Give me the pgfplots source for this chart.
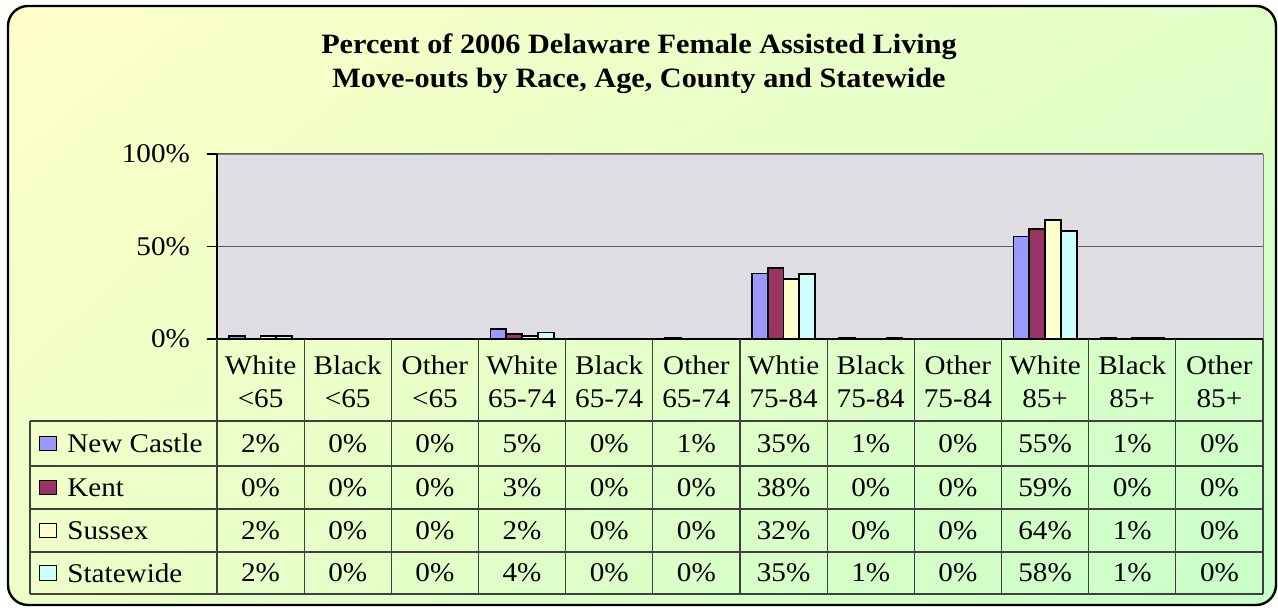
\documentclass[border=0pt]{standalone}
\usepackage{fontspec}
\setmainfont{Liberation Serif}[FakeStretch=1.08]
\usepackage{pgfplots}
\usepackage{pgfplotstable}
\pgfplotsset{compat=1.18}
\usetikzlibrary{shadings}
\pgfkeys{/pgf/number format/assume math mode=true}

\definecolor{cNC}{HTML}{9999FF}
\definecolor{cKent}{HTML}{993366}
\definecolor{cSus}{HTML}{FFFFCC}
\definecolor{cSW}{HTML}{CCFFFF}
\definecolor{bgTL}{HTML}{FFFFC8}
\definecolor{bgTR}{HTML}{E2FFC8}
\definecolor{bgBL}{HTML}{EEFFC8}
\definecolor{bgBR}{HTML}{C8FFC8}
\definecolor{marble}{HTML}{DFDFE3}
\definecolor{gridc}{HTML}{5A5A5A}
\definecolor{tabc}{HTML}{404040}

\pgfplotstableread{
x  nc   kent sus  sw
0  1.7  0    1.6  1.7
1  0    0    0    0
2  0    0    0    0
3  5.4  2.7  1.6  3.5
4  0    0    0    0
5  0.6  0    0    0
6  35.4 38.4 32.3 35.2
7  0.6  0    0    0.6
8  0    0    0    0
9  55.4 59.4 64.3 58.3
10 0.6  0    0.6  0.6
11 0    0    0    0
}\datatable

\begin{document}
\begin{tikzpicture}[font=\fontsize{13.5}{16.5}\selectfont]
\useasboundingbox (-108.5pt,-134.5pt) rectangle (530.5pt,169.5pt);
\shade[rounded corners=10pt, upper left=bgTL, upper right=bgTR, lower left=bgBL, lower right=bgBR]
  (-104.5pt,-133pt) rectangle (529.5pt,166.5pt);
\draw[black, line width=1.2pt, rounded corners=10pt] (-104.5pt,-133pt) rectangle (529.5pt,166.5pt);

\node[align=center, font=\fontsize{14}{17}\selectfont\bfseries] at (211pt,137.5pt)
  {Percent of 2006 Delaware Female Assisted Living\\Move-outs by Race, Age, County and Statewide};

\begin{axis}[
  at={(0pt,0pt)}, anchor=south west,
  scale only axis, width=523pt, height=92.5pt,
  xmin=-0.5, xmax=11.5, ymin=0, ymax=100,
  ybar=0pt, bar width=7.9pt,
  axis background/.style={fill=marble},
  axis line style={draw=gray},
  xtick={0,...,11},
  xticklabels={White\\<65,Black\\<65,Other\\<65,White\\65-74,Black\\65-74,Other\\65-74,Whtie\\75-84,Black\\75-84,Other\\75-84,White\\85+,Black\\85+,Other\\85+},
  xticklabel style={align=center, anchor=center, yshift=-16.25pt, font=\fontsize{13.5}{16.5}\selectfont},
  x tick style={draw=none},
  ytick={0,50,100},
  yticklabels={0\%,50\%,100\%},
  ytick pos=left,
  tick align=outside,
  major tick length=5pt,
  y tick style={black, line width=0.6pt},
  yticklabel style={anchor=east, xshift=-5pt, font=\fontsize{13.5}{16.5}\selectfont},
  ymajorgrids,
  grid style={gridc, line width=0.6pt},
]
\addplot[fill=cNC, draw=black, line width=0.9pt] table[x=x,y=nc]{\datatable};
\addplot[fill=cKent, draw=black, line width=0.9pt] table[x=x,y=kent]{\datatable};
\addplot[fill=cSus, draw=black, line width=0.9pt] table[x=x,y=sus]{\datatable};
\addplot[fill=cSW, draw=black, line width=0.9pt] table[x=x,y=sw]{\datatable};
\end{axis}

% axis left and bottom lines
\draw[black, line width=0.8pt] (0pt,92.5pt) -- (0pt,0pt) -- (523pt,0pt);

% data table grid
\foreach \k in {0,...,12} {
  \draw[tabc, line width=0.6pt] ({\k*523pt/12},0pt) -- ({\k*523pt/12},-127.5pt);
}
\draw[tabc, line width=0.6pt] (-93.5pt,-41pt) -- (-93.5pt,-127.5pt);
\foreach \yy in {-41,-63.5,-85,-106.5,-127.5} {
  \draw[tabc, line width=0.6pt] (-93.5pt,\yy pt) -- (523pt,\yy pt);
}

% row labels
\foreach \c/\lab/\yy in {cNC/New Castle/-52.25, cKent/Kent/-74.25, cSus/Sussex/-95.75, cSW/Statewide/-117} {
  \draw[fill=\c, draw=black, line width=0.5pt] (-88.5pt,{\yy pt-3.7pt}) rectangle (-80pt,{\yy pt+3.7pt});
  \node[anchor=west, inner sep=0pt] at (-75pt,\yy pt) {\lab};
}

% values
\foreach \col/\yy in {nc/-52.25, kent/-74.25, sus/-95.75, sw/-117} {
  \foreach \i in {0,...,11} {
    \pgfplotstablegetelem{\i}{\col}\of\datatable
    \node[inner sep=0pt] at ({(\i+0.5)*523pt/12},\yy pt) {\pgfmathprintnumber[fixed,precision=0]{\pgfplotsretval}\%};
  }
}
\end{tikzpicture}
\end{document}
